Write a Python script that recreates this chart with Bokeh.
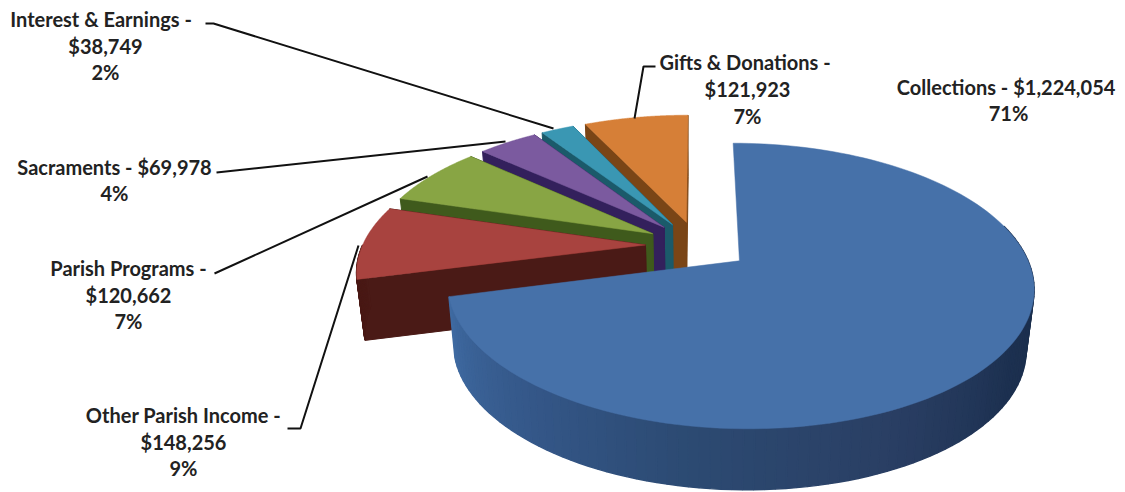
import math
from bokeh.plotting import figure
from bokeh.embed import file_html
from bokeh.resources import INLINE
from bokeh.core.properties import value

# ---- data (clockwise from 12 o'clock) ----
categories = ["Collections", "Other Parish Income", "Parish Programs",
              "Sacraments", "Interest & Earnings", "Gifts & Donations"]
amounts = [1224054, 148256, 120662, 69978, 38749, 121923]

# ---- styles ----
top_colors = ["#4671a9", "#a8433f", "#88a544", "#7b5a9f", "#3a97b3", "#d67f37"]
side_colors = ["#2a4670", "#4a1a16", "#3f5a1c", "#33205c", "#1b5a6a", "#7a4516"]
blue_wall_stops = ["#1a2d4a", "#1c3050", "#2a3f64", "#2c4a72", "#35588a", "#3f6ba2"]

# ---- projection of the 3-D pie ----
CX, CY = 697.0, 245.0
A, B = 283.0, 133.0
K = 0.173
EXPLODE = 0.184
DEPTH = 61.0
SHRINK = 0.976
W, H = 1125, 492


def project(X, Y):
    s = 1.0 / (1.0 - K * Y)
    return CX + A * X * s, CY + B * Y * s


def drop(pt):
    return CX + (pt[0] - CX) * SHRINK, pt[1] + DEPTH


def rim(a0, a1, mid, n):
    ex, ey = EXPLODE * math.sin(mid), -EXPLODE * math.cos(mid)
    out = []
    for i in range(n + 1):
        t = a0 + (a1 - a0) * i / n
        out.append(project(ex + math.sin(t), ey - math.cos(t)))
    return out, project(ex, ey)


def hexmix(stops, f):
    f = max(0.0, min(1.0, f)) * (len(stops) - 1)
    i = min(int(f), len(stops) - 2)
    g = f - i
    a = [int(stops[i][j:j + 2], 16) for j in (1, 3, 5)]
    b = [int(stops[i + 1][j:j + 2], 16) for j in (1, 3, 5)]
    return "#%02x%02x%02x" % tuple(int(round(u + (v - u) * g)) for u, v in zip(a, b))


p = figure(width=W, height=H, x_range=(0, W), y_range=(H, 0),
           toolbar_location=None, output_backend="svg", min_border=0,
           outline_line_color=None, background_fill_color="white")
p.axis.visible = False
p.grid.visible = False

total = sum(amounts)
bounds = [0.0]
for v in amounts:
    bounds.append(bounds[-1] + v / total * 2 * math.pi)


def poly(pts, fill, line=None, lw=1.0):
    p.patch([q[0] for q in pts], [q[1] for q in pts], fill_color=fill,
            line_color=line or fill, line_width=lw)


for idx in [5, 4, 3, 2, 1, 0]:
    a0, a1 = bounds[idx], bounds[idx + 1]
    mid = (a0 + a1) / 2
    arc, apex = rim(a0, a1, mid, 140)
    # cut faces (the big slice hides its own)
    if idx != 0:
        poly([apex, arc[-1], drop(arc[-1]), drop(apex)], side_colors[idx])
        poly([apex, arc[0], drop(arc[0]), drop(apex)], side_colors[idx])
    # outer wall, front-facing part only
    for i in range(len(arc) - 1):
        t = a0 + (a1 - a0) * (i + 0.5) / (len(arc) - 1)
        if math.pi / 2 < t < 3 * math.pi / 2 or (idx == 0 and t <= math.pi / 2 + 0.12 and t > 1.3):
            if idx == 0:
                c = hexmix(blue_wall_stops, (t - math.pi / 2) / (bounds[1] - math.pi / 2))
            else:
                c = side_colors[idx]
            poly([arc[i], arc[i + 1], drop(arc[i + 1]), drop(arc[i])], c, lw=1.4)
    # top face
    poly([apex] + arc, top_colors[idx], lw=0.5)

# ---- labels ----
def money(v):
    return "${:,}".format(v)


def pct(v):
    return "{:.0f}%".format(v / total * 100)


label_rows = [
    ("Interest & Earnings  -", 103, 18), (money(amounts[4]), 105, 45), (pct(amounts[4]), 105, 71),
    ("Sacraments - " + money(amounts[3]), 114, 166), (pct(amounts[3]), 114, 192),
    ("Parish Programs -", 128, 267), (money(amounts[2]), 128, 294), (pct(amounts[2]), 128, 320),
    ("Other Parish Income -", 183, 414), (money(amounts[1]), 183, 441), (pct(amounts[1]), 183, 467),
    ("Gifts & Donations  -", 747, 61), (money(amounts[5]), 747, 88), (pct(amounts[5]), 747, 115),
    ("Collections  - " + money(amounts[0]), 1008, 86), (pct(amounts[0]), 1008, 112),
]
p.text(x=[r[1] for r in label_rows], y=[r[2] for r in label_rows], text=[r[0] for r in label_rows],
       text_font=value("Lato"), text_font_style="bold", text_font_size="20px",
       text_align="center", text_baseline="middle", text_color="#222222")

leader_x = [[205, 213, 553], [216, 505], [214, 427], [287, 300, 358], [655, 643, 634]]
leader_y = [[23, 23, 128], [172, 141], [273, 176], [428, 428, 245], [66, 66, 118]]
p.multi_line(leader_x, leader_y, line_color="#111111", line_width=2)

open("out.html", "w").write(file_html(p, INLINE))
